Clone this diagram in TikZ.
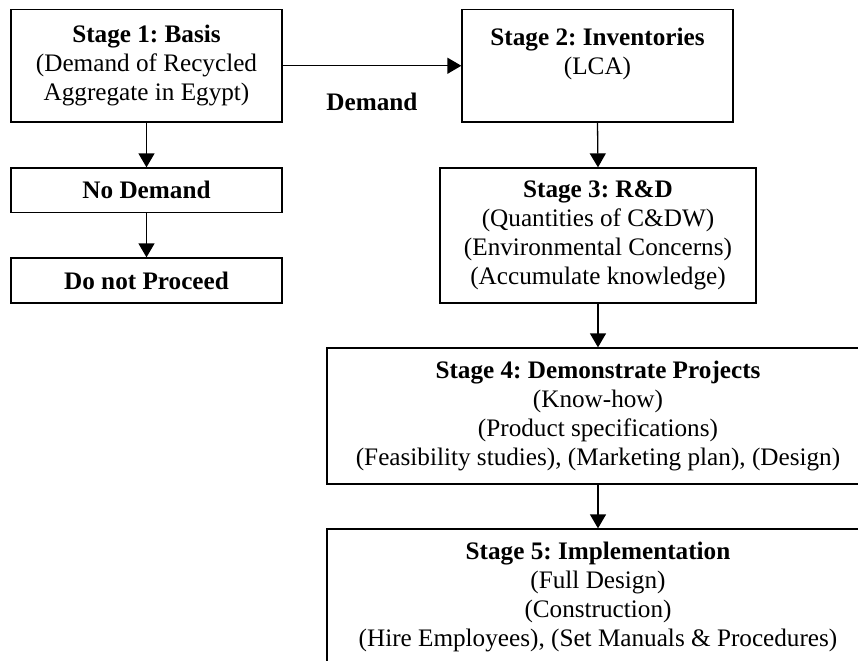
\documentclass[tikz,border=0pt]{standalone}
\usepackage{fontspec}
\setmainfont{Liberation Serif}
\usetikzlibrary{arrows.meta}
\frenchspacing

\begin{document}
\begin{tikzpicture}[x=0.5pt,y=-0.5pt,
  stagebox/.style={draw=black,line width=0.65pt,inner sep=0pt,align=center,
    font=\fontsize{12.6pt}{14.4pt}\selectfont},
  flow/.style={line width=0.65pt,-{Triangle[width=8pt,length=7pt]}}]
\path[use as bounding box,clip] (0,0) rectangle (858,660);
\node[stagebox,minimum width=135.5pt,minimum height=56.25pt] (basis) at (146.5,65.75)
  {\textbf{Stage 1: Basis}\\(Demand of Recycled\\Aggregate in Egypt)};
\node[stagebox,minimum width=135.5pt,minimum height=22.25pt] (nodemand) at (146.5,190.25)
  {\textbf{No Demand}};
\node[stagebox,minimum width=135.5pt,minimum height=22.5pt] (noproceed) at (146.5,280.5)
  {\textbf{Do not Proceed}};
\node[stagebox,minimum width=135.5pt,minimum height=56.25pt] (inventory) at (597.5,65.75)
  {\textbf{Stage 2: Inventories}\\(LCA)\\\mbox{}};
\node[stagebox,minimum width=158pt,minimum height=67.5pt] (rnd) at (598,235.5)
  {\textbf{Stage 3: R\&D}\\(Quantities of C\&DW)\\(Environmental Concerns)\\(Accumulate knowledge)};
\node[stagebox,minimum width=271pt,minimum height=68pt] (demo) at (598,416)
  {\textbf{Stage 4: Demonstrate Projects}\\(Know-how)\\(Product specifications)\\(Feasibility studies), (Marketing plan), (Design)};
\node[stagebox,minimum width=271pt,minimum height=68pt] (implement) at (598,597)
  {\textbf{Stage 5: Implementation}\\(Full Design)\\(Construction)\\(Hire Employees), (Set Manuals \& Procedures)};
\node[font=\fontsize{12.6pt}{14.4pt}\selectfont\bfseries] (demand) at (372,102) {Demand};
\draw[flow] (basis.east) -- (inventory.west);
\draw[flow] (basis.south) -- (nodemand.north);
\draw[flow] (nodemand.south) -- (noproceed.north);
\draw[flow] (inventory.south) -- (rnd.north);
\draw[flow] (rnd.south) -- (demo.north);
\draw[flow] (demo.south) -- (implement.north);
\end{tikzpicture}
\end{document}
